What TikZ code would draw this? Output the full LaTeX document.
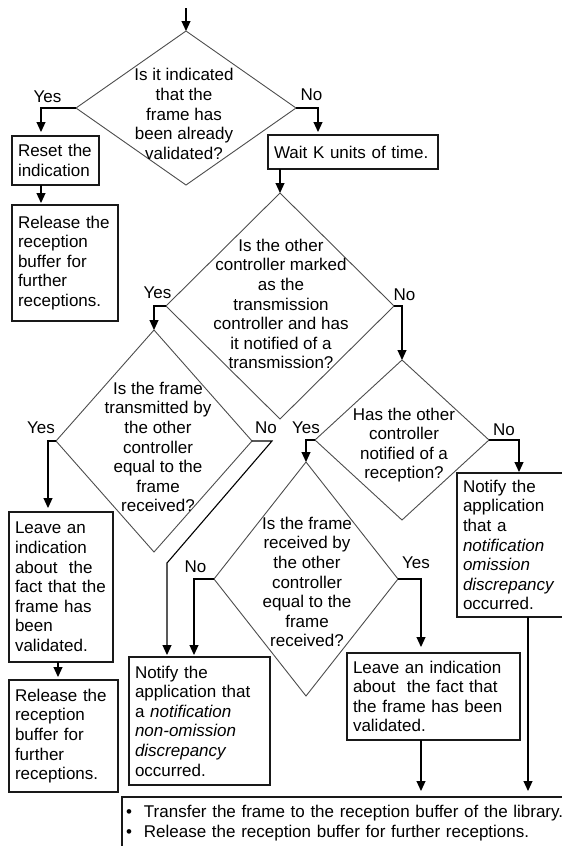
\documentclass[tikz,border=0pt]{standalone}
\usepackage{fontspec}
\setmainfont{Liberation Sans}
\usetikzlibrary{shapes.geometric,arrows.meta}
\begin{document}
\begin{tikzpicture}[x=1pt,y=-1pt,
  every node/.style={font=\fontsize{17}{19.6}\selectfont},
  dia/.style={diamond, draw=black!70, line width=0.9pt, inner sep=0pt, outer sep=0pt},
  qtext/.style={align=center, inner sep=0pt},
  box/.style={draw=black!90, line width=1.1pt, rectangle, anchor=north west, align=left, inner xsep=6pt, inner ysep=0pt, outer sep=0pt},
  lbl/.style={inner sep=0pt},
  arr/.style={-{Triangle[width=9pt,length=10pt]}, line width=1.1pt}
]
\useasboundingbox (0,0) rectangle (562,846);
\clip (0,0) rectangle (562,846);

% start
\coordinate (start) at (186,8);

% diamonds
\node[dia, minimum width=220pt, minimum height=154pt] (d1) at (186,108) {};
\node[qtext] (t1) at (184,114) {Is it indicated\\that the\\frame has\\been already\\validated?};

\node[dia, minimum width=228pt, minimum height=226pt] (d2) at (280,306) {};
\node[qtext] (t2) at (281,304) {Is the other\\controller marked\\as the\\transmission\\controller and has\\it notified of a\\transmission?};

\node[dia, minimum width=196pt, minimum height=222pt] (d3) at (154,441) {};
\node[qtext] (t3) at (158,447) {Is the frame\\transmitted by\\the other\\controller\\equal to the\\frame\\received?};

\node[dia, minimum width=174pt, minimum height=160pt] (d4) at (402,440) {};
\node[qtext] (t4) at (404,445) {Has the other\\controller\\notified of a\\reception?};

\node[dia, minimum width=184pt, minimum height=234pt] (d5) at (306,579) {};
\node[qtext] (t5) at (307,582) {Is the frame\\received by\\the other\\controller\\equal to the\\frame\\received?};

% boxes
\node[box, text width=75pt, minimum height=49pt] (b1) at (12,136) {Reset the\\indication};
\node[box, text width=94pt, minimum height=116pt] (b2) at (12,205) {Release the\\reception\\buffer for\\further\\receptions.};
\node[box, text width=158pt, minimum height=34pt] (b3) at (268,135) {Wait K units of time.};
\node[box, text width=92pt, minimum height=150pt] (b4) at (9,512) {Leave an\\indication\\about \ the\\fact that the\\frame has\\been\\validated.};
\node[box, text width=97pt, minimum height=112pt] (b5) at (9,680) {Release the\\reception\\buffer for\\further\\receptions.};
\node[box, text width=129pt, minimum height=128pt] (b6) at (129,657) {Notify the\\application that\\a \textit{notification}\\\textit{non-omission}\\\textit{discrepancy}\\occurred.};
\node[box, text width=118pt, minimum height=144pt] (b7) at (457,473) {Notify the\\application\\that a\\\textit{notification}\\\textit{omission}\\\textit{discrepancy}\\occurred.};
\node[box, text width=161pt, minimum height=87pt] (b8) at (347,653) {Leave an indication\\about \ the fact that\\the frame has been\\validated.};
\node[box, inner xsep=4pt, text width=452pt, minimum height=52pt] (bb) at (122,797) {\textbullet\hspace{12pt}Transfer the frame to the reception buffer of the library.\\\textbullet\hspace{12pt}Release the reception buffer for further receptions.};

% labels
\node[lbl] (y1) at (47.5,97) {Yes};
\node[lbl] (n1) at (311.5,95) {No};
\node[lbl] (y2) at (157.5,293) {Yes};
\node[lbl] (n2) at (404.5,295) {No};
\node[lbl] (y3) at (41,428) {Yes};
\node[lbl] (n3) at (266,428) {No};
\node[lbl] (y4) at (306,428) {Yes};
\node[lbl] (n4) at (504,430) {No};
\node[lbl] (n5) at (195.5,567) {No};
\node[lbl] (y5) at (416,563) {Yes};

% connectors
\draw[arr] (start) -- (d1.north);
\draw[arr, shorten >=4pt] (d1.west) -| (b1.north -| 41,0);
\draw[arr, shorten >=2pt] (b1.south -| 41,0) -- (b2.north -| 41,0);
\draw[arr, shorten >=3pt] (d1.east) -| (b3.north -| 318,0);
\draw[arr] (b3.south -| 280,0) -- (d2.north);
\draw[arr] (d2.west) -| (d3.north);
\draw[arr] (d2.east) -| (d4.north);
\draw[arr, shorten >=4pt] (d3.west) -| (b4.north -| 48,0);
\draw[arr, shorten >=3pt] (b4.south -| 58,0) -- (b5.north -| 58,0);
\draw[arr, shorten >=2pt] (d3.east) -- (272,441) -- (167,563) -- (b6.north -| 167,0);
\draw[arr] (d4.west) -| (d5.north);
\draw[arr, shorten >=1pt] (d4.east) -| (b7.north -| 519,0);
\draw[arr, shorten >=2pt] (d5.west) -| (b6.north -| 194,0);
\draw[arr, shorten >=6pt] (d5.east) -| (b8.north -| 421,0);
\draw[arr, shorten >=6pt] (b8.south -| 421,0) -- (bb.north -| 421,0);
\draw[arr, shorten >=6pt] (b7.south -| 528,0) -- (bb.north -| 528,0);
\end{tikzpicture}
\end{document}
